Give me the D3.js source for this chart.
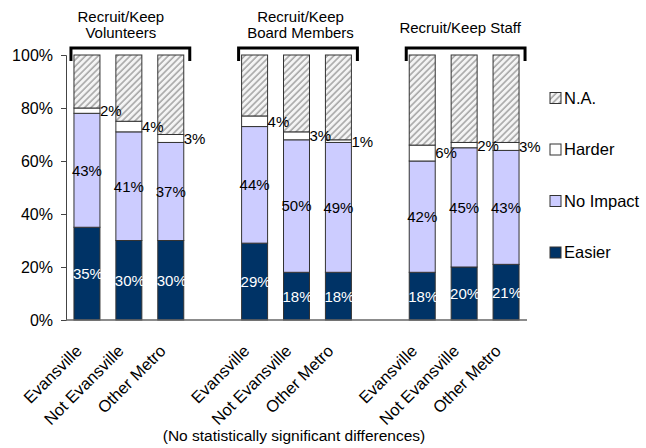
<html lang="en">
<head>
<meta http-equiv="Content-Type" content="text/html; charset=UTF-8">
<title>Recruit/Keep</title>
<script type="text/javascript" src="https://cdn.jsdelivr.net/npm/d3@7"></script>
<style type="text/css">
body { margin: 0; background: #fff; }
text { font-family: "Liberation Sans", Arial, sans-serif; fill: #000; }
</style>
</head>
<body>

<script type="text/javascript">

// chart values
var titles = [["Recruit/Keep", "Volunteers"], ["Recruit/Keep", "Board Members"], ["Recruit/Keep Staff"]];
var regions = ["Evansville", "Not Evansville", "Other Metro"];
var seriesNames = ["Easier", "No Impact", "Harder", "N.A."];
var easier   = [35, 30, 30, 29, 18, 18, 18, 20, 21];
var noImpact = [43, 41, 37, 44, 50, 49, 42, 45, 43];
var harder   = [2, 4, 3, 4, 3, 1, 6, 2, 3];
var na       = [20, 25, 30, 23, 29, 32, 34, 33, 33];
var yTicks = [0, 20, 40, 60, 80, 100];
var note = "(No statistically significant differences)";

var width = 646, height = 448;

var svg = d3.select("body").append("svg")
    .attr("width", width)
    .attr("height", height);

var defs = svg.append("defs");
var pat = defs.append("pattern")
    .attr("id", "hatch")
    .attr("patternUnits", "userSpaceOnUse")
    .attr("width", 4.5)
    .attr("height", 4.5)
    .attr("patternTransform", "rotate(45)");
pat.append("rect").attr("width", 4.5).attr("height", 4.5).attr("fill", "#f4f4f4");
pat.append("line")
    .attr("x1", 1).attr("y1", 0).attr("x2", 1).attr("y2", 4.5)
    .attr("stroke", "#a8a8a8").attr("stroke-width", 1.6);

var colors = ["#003366", "#ccccff", "#ffffff", "url(#hatch)"];

// table of bars: group slot = group * 4 + position
var rows = easier.map(function(d, i) {
    return {
        slot: Math.floor(i / 3) * 4 + (i % 3),
        group: Math.floor(i / 3),
        region: regions[i % 3],
        "Easier": easier[i],
        "No Impact": noImpact[i],
        "Harder": harder[i],
        "N.A.": na[i]
    };
});

var x = d3.scaleBand()
    .domain(d3.range(11))
    .range([66, 527])
    .paddingInner(0.38)
    .paddingOuter(0.19);

var y = d3.scaleLinear()
    .domain([0, 100])
    .range([320, 55]);

var stack = d3.stack().keys(seriesNames);
var layers = stack(rows);

// bars
var layer = svg.selectAll("g.layer")
    .data(layers)
    .enter().append("g")
    .attr("class", "layer")
    .attr("fill", function(d, i) { return colors[i]; });

layer.selectAll("rect")
    .data(function(d) { return d; })
    .enter().append("rect")
    .attr("x", function(d) { return x(d.data.slot); })
    .attr("y", function(d) { return y(d[1]); })
    .attr("width", x.bandwidth())
    .attr("height", function(d) { return y(d[0]) - y(d[1]); })
    .attr("stroke", "#333")
    .attr("stroke-width", 1);

// axes
var yAxis = d3.axisLeft(y)
    .tickValues(yTicks)
    .tickSize(5)
    .tickPadding(8)
    .tickFormat(function(d) { return d + "%"; });

var gy = svg.append("g")
    .attr("transform", "translate(66,0)")
    .call(yAxis);
gy.select(".domain").attr("stroke", "#444");
gy.selectAll(".tick line").attr("stroke", "#444");
gy.selectAll("text")
    .style("font-size", "16px")
    .style("font-family", "'Liberation Sans', Arial, sans-serif")
    .attr("fill", "#000");

svg.append("line")
    .attr("x1", 66).attr("x2", 527)
    .attr("y1", y(0)).attr("y2", y(0))
    .attr("stroke", "#666").attr("stroke-width", 1.5);

// data labels
var labelSize = "15px";

svg.selectAll("text.easier")
    .data(layers[0])
    .enter().append("text")
    .attr("class", "easier")
    .attr("x", function(d) { return x(d.data.slot) + x.bandwidth() / 2 + 1; })
    .attr("y", function(d) { return (y(d[0]) + y(d[1])) / 2; })
    .attr("dy", "0.36em")
    .attr("text-anchor", "middle")
    .style("font-size", labelSize)
    .style("fill", "#fff")
    .text(function(d) { return (d[1] - d[0]) + "%"; });

svg.selectAll("text.noimpact")
    .data(layers[1])
    .enter().append("text")
    .attr("class", "noimpact")
    .attr("x", function(d) { return x(d.data.slot) + x.bandwidth() / 2; })
    .attr("y", function(d) { return (y(d[0]) + y(d[1])) / 2; })
    .attr("dy", "0.36em")
    .attr("text-anchor", "middle")
    .style("font-size", labelSize)
    .text(function(d) { return (d[1] - d[0]) + "%"; });

svg.selectAll("text.harder")
    .data(layers[2])
    .enter().append("text")
    .attr("class", "harder")
    .attr("x", function(d) { return x(d.data.slot) + x.bandwidth(); })
    .attr("y", function(d) { return (y(d[0]) + y(d[1])) / 2; })
    .attr("dy", "0.36em")
    .attr("text-anchor", "start")
    .style("font-size", labelSize)
    .text(function(d) { return (d[1] - d[0]) + "%"; });

// category labels
svg.selectAll("text.cat")
    .data(rows)
    .enter().append("text")
    .attr("class", "cat")
    .attr("text-anchor", "end")
    .attr("transform", function(d) {
        return "translate(" + (x(d.slot) + x.bandwidth() / 2 - 4) + ",352) rotate(-45)";
    })
    .style("font-size", "16.5px")
    .text(function(d) { return d.region; });

// group brackets and titles
var titleShift = [-8, 4, -4];
titles.forEach(function(lines, g) {
    var x0 = x(g * 4) - 3;
    var x1 = x(g * 4 + 2) + x.bandwidth() + 6;
    svg.append("path")
        .attr("d", "M" + x0 + ",61V48H" + x1 + "V61")
        .attr("fill", "none")
        .attr("stroke", "#000")
        .attr("stroke-width", 3);
    var cx = x(g * 4 + 1) + x.bandwidth() / 2 + titleShift[g];
    lines.forEach(function(t, k) {
        svg.append("text")
            .attr("x", cx)
            .attr("y", lines.length == 1 ? 33 : 22 + k * 16)
            .attr("text-anchor", "middle")
            .style("font-size", "15px")
            .text(t);
    });
});

// legend (top to bottom: N.A., Harder, No Impact, Easier)
var legendOrder = [3, 2, 1, 0];
var legend = svg.selectAll("g.legend")
    .data(legendOrder)
    .enter().append("g")
    .attr("class", "legend")
    .attr("transform", function(d, i) { return "translate(550," + (98 + i * 51.5) + ")"; });

legend.append("rect")
    .attr("x", 0).attr("y", -5.5)
    .attr("width", 11).attr("height", 11)
    .attr("fill", function(d) { return colors[d]; })
    .attr("stroke", "#333");

legend.append("text")
    .attr("x", 14)
    .attr("y", 0)
    .attr("dy", "0.36em")
    .style("font-size", "16.5px")
    .text(function(d) { return seriesNames[d]; });

// footnote
svg.append("text")
    .attr("x", 294)
    .attr("y", 441)
    .attr("text-anchor", "middle")
    .style("font-size", "15.5px")
    .text(note);

</script>

</body>
</html>
